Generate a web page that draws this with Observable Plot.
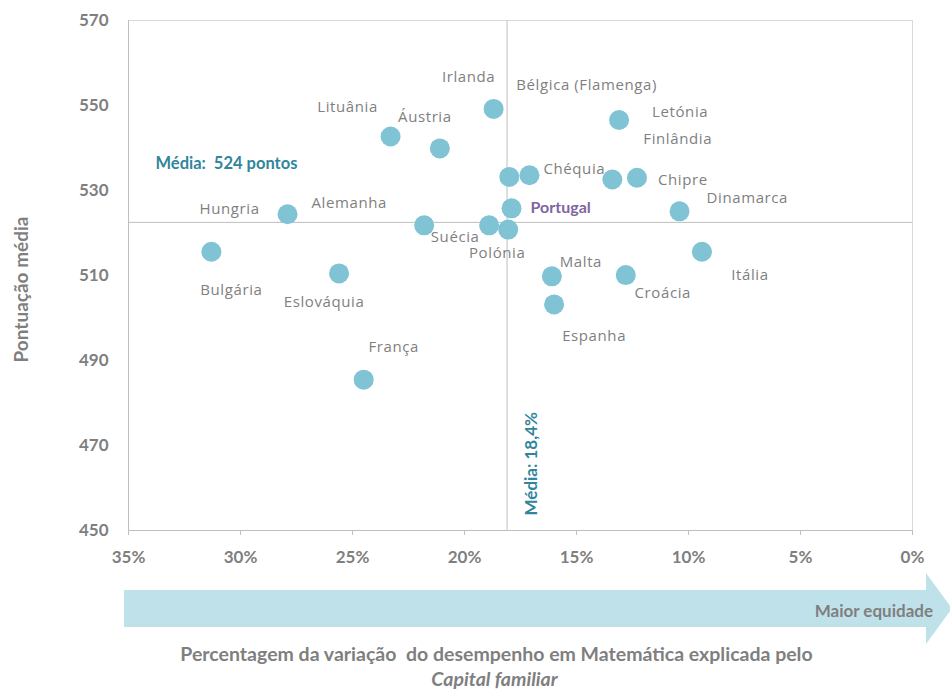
<!DOCTYPE html>
<html><head><meta charset="utf-8">
<script src="https://cdn.jsdelivr.net/npm/d3@7"></script>
<script src="https://cdn.jsdelivr.net/npm/@observablehq/plot@0.6"></script>
<style>body{margin:0;background:#fff}</style>
</head><body><div id="chart"></div>
<script>
// ---- data ----
const countries = ["Bulgária","Hungria","Eslováquia","França","Lituânia","Alemanha","Áustria","Irlanda","Suécia","Polónia","Bélgica (Flamenga)","Chéquia","Portugal","Malta","Espanha","Finlândia","Chipre","Letónia","Croácia","Dinamarca","Itália"];
const equity = [31.3,27.9,25.6,24.5,23.3,21.8,21.1,18.7,18.9,18.05,18.0,17.1,17.9,16.1,16.0,13.4,12.3,13.1,12.8,10.4,9.4];
const scores = [515.6,524.4,510.5,485.5,542.7,521.8,539.9,549.2,521.8,520.8,533.2,533.6,525.8,509.8,503.2,532.6,533.0,546.6,510.1,525.1,515.6];
const xTicks = [35,30,25,20,15,10,5,0];
const yTicks = [450,470,490,510,530,550,570];
const meanEquity = 18.1;
const meanScore = 522.5;
const meanScoreLabel = "Média:  524 pontos";
const meanEquityLabel = "Média: 18,4%";
const highlight = "Portugal";

// ---- layout (label offsets in px: dx, dy, anchor) ----
const labelLayout = {
  "Irlanda":[-25,-32,"middle"], "Bélgica (Flamenga)":[7,-92,"start"], "Lituânia":[-43,-29,"middle"],
  "Áustria":[-15,-31,"middle"], "Letónia":[33,-8,"start"], "Finlândia":[31,-40,"start"],
  "Chéquia":[14,-6,"start"], "Chipre":[21,2,"start"], "Dinamarca":[27,-13,"start"],
  "Portugal":[19,0,"start"], "Suécia":[-34,12,"middle"], "Polónia":[-11,24,"middle"],
  "Hungria":[-58,-5,"middle"], "Alemanha":[-75,-22,"middle"], "Bulgária":[20,38,"middle"],
  "Eslováquia":[-15,29,"middle"], "Malta":[29,-14,"middle"], "Croácia":[37,18,"middle"],
  "Itália":[48,23,"middle"], "Espanha":[40,32,"middle"], "França":[30,-32,"middle"]
};

const data = countries.map((c,i)=>({country:c, x:equity[i], y:scores[i]}));
const grey = "#7f7f7f", teal = "#31859c", purple = "#8064a2", dot = "#7fc3d4";
const boldFont = "Lato, 'Open Sans', sans-serif";

const labelMarks = data.map(d => {
  const [dx,dy,anchor] = labelLayout[d.country];
  const isH = d.country === highlight;
  return Plot.text([d], {x:"x", y:"y", text:"country", dx, dy, textAnchor:anchor,
    fill: isH ? purple : grey, fontSize: isH ? 16 : 15, fontWeight: isH ? "bold" : "normal",
    fontFamily: isH ? boldFont : "'Open Sans', sans-serif"});
});

const chart = Plot.plot({
  width: 950, height: 694,
  marginTop: 20, marginBottom: 164, marginLeft: 128, marginRight: 38,
  style: {fontFamily: boldFont, background: "#fff", overflow: "visible"},
  x: {domain: [35, 0], ticks: xTicks, tickFormat: d => d + "%"},
  y: {domain: [450, 570], ticks: yTicks},
  marks: [
    Plot.frame({stroke: "#d9d9d9"}),
    Plot.ruleX([35], {stroke: "#bfbfbf"}),
    Plot.ruleY([450], {stroke: "#bfbfbf"}),
    Plot.ruleX([meanEquity], {stroke: "#bfbfbf"}),
    Plot.ruleY([meanScore], {stroke: "#bfbfbf"}),
    Plot.axisY({ticks: yTicks, tickSize: 0, tickPadding: 20, fontSize: 17, fontWeight: "bold", fill: grey, label: null}),
    Plot.axisX({ticks: xTicks, tickFormat: d => d + "%", tickSize: 5, stroke: "#bfbfbf", tickPadding: 15, fontSize: 17, fontWeight: "bold", fill: grey, label: null}),
    Plot.dot(data, {x: "x", y: "y", r: 10, fill: dot}),
    ...labelMarks,
    Plot.text([meanScoreLabel], {frameAnchor: "top-left", dx: 27, dy: 137, textAnchor: "start", fill: teal, fontWeight: "bold", fontSize: 16.5}),
    Plot.text([meanEquityLabel], {x: [meanEquity], frameAnchor: "bottom", rotate: -90, textAnchor: "start", dx: 30, dy: -15, fill: teal, fontWeight: "bold", fontSize: 17}),
    Plot.text(["Pontuação média"], {frameAnchor: "left", textAnchor: "middle", rotate: -90, dx: -107, dy: 14, fill: grey, fontWeight: "bold", fontSize: 19}),
    Plot.text(["Percentagem da variação  do desempenho em Matemática explicada pelo"], {frameAnchor: "bottom", dx: -24, dy: 130, fill: grey, fontWeight: "bold", fontSize: 19.5}),
    Plot.text(["Capital familiar"], {frameAnchor: "bottom", dx: -26, dy: 155, fill: grey, fontWeight: "bold", fontStyle: "italic", fontSize: 19.5})
  ]
});

// letter spacing for country labels (as in the reference)
const svg = d3.select(chart);
svg.selectAll("text").filter(function() {
  const t = this.textContent;
  return countries.includes(t) && t !== highlight;
}).attr("letter-spacing", "0.6px");

// decorative arrow "Maior equidade"
const g = svg.insert("g", ":first-child");
g.append("path")
  .attr("d", "M124,590 L926,590 L926,573 L952,608.5 L926,644 L926,627 L124,627 Z")
  .attr("fill", "#bfe2ea");
svg.append("text").attr("x", 933).attr("y", 613).attr("text-anchor", "end")
  .attr("dominant-baseline", "middle")
  .attr("fill", grey).attr("font-weight", "bold").attr("font-size", 17)
  .attr("font-family", boldFont).text("Maior equidade");

document.getElementById("chart").appendChild(chart);
</script>
</body></html>
